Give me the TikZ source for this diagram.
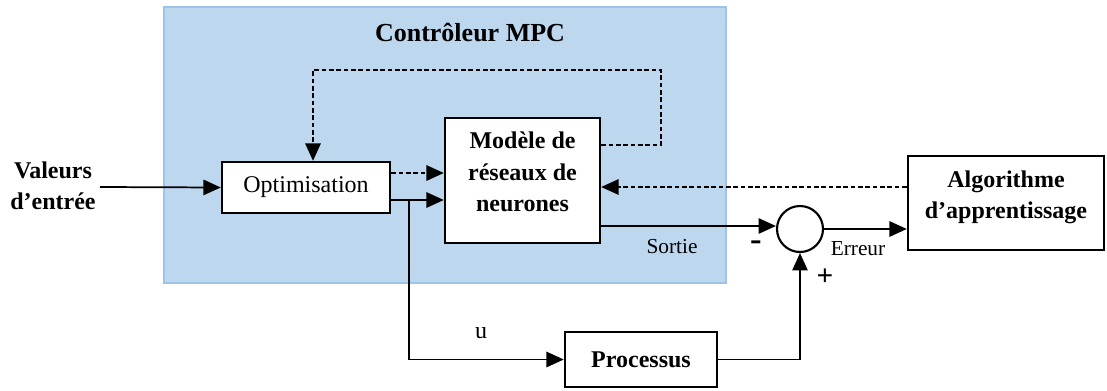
\documentclass[tikz,border=0pt]{standalone}
\usepackage{fontspec}
\setmainfont{Liberation Serif}
\usetikzlibrary{arrows.meta}
\definecolor{mpcfill}{HTML}{BDD7EE}
\definecolor{mpcedge}{HTML}{9DC3E6}
\begin{document}
\begin{tikzpicture}[x=0.75pt,y=-0.75pt,
  box/.style={draw, line width=1.8pt, fill=white, inner sep=0pt, align=center},
  conn/.style={line width=1.3pt, -{Triangle[length=13pt,width=11.5pt]}},
  dconn/.style={conn, dash pattern=on 3.5pt off 2pt},
  btxt/.style={font=\fontsize{18}{23}\selectfont\bfseries, align=center},
  rtxt/.style={font=\fontsize{18}{22}\selectfont},
  stxt/.style={font=\fontsize{16}{19}\selectfont}
]
\useasboundingbox (0,0) rectangle (1107,390);
\fill[mpcfill, draw=mpcedge, line width=1pt] (164,7) rectangle (726,283);
\node[font=\fontsize{19.5}{22}\selectfont\bfseries] (title) at (470,32) {Contrôleur MPC};

\node[box, minimum width=126pt, minimum height=38.25pt, rtxt] (opt) at (306,187.5) {Optimisation};
\node[box, minimum width=116.25pt, minimum height=93.75pt] (mod) at (522.5,180.5) {};
\node[btxt, font=\fontsize{18}{23.5}\selectfont\bfseries] (modtxt) at (522.5,172) {Modèle de\\réseaux de\\neurones};
\node[box, minimum width=147pt, minimum height=70.5pt] (algo) at (1006,203) {};
\node[btxt] (algotxt) at (1006,197) {Algorithme\\d’apprentissage};
\node[box, minimum width=114pt, minimum height=41.25pt, btxt] (proc) at (641,359.5) {Processus};
\node[draw, circle, line width=1.6pt, minimum size=34.5pt, inner sep=0pt] (sum) at (800,229) {};
\node[btxt] (input) at (53,186) {Valeurs\\d’entrée};

\coordinate (in0) at (100,187);
\coordinate (rt) at (661,145);
\coordinate (lt) at (313,70);
\coordinate (d1) at (0,173);
\coordinate (s1) at (0,200);
\coordinate (br) at (409,200);
\coordinate (o1) at (0,226);
\coordinate (a1) at (0,187);

\draw[conn] (in0) -- (opt.west);
\draw[dconn] (mod.east |- rt) -- (rt) |- (lt) -- (opt.north -| lt);
\draw[dconn] (opt.east |- d1) -- (mod.west |- d1);
\draw[conn] (opt.east |- s1) -- (mod.west |- s1);
\draw[conn] (br) |- (proc.west);
\draw[conn] (mod.east |- o1) -- (sum.west |- o1);
\draw[conn] (sum.east) -- (algo.west |- sum.east);
\draw[dconn] (algo.west |- a1) -- (mod.east |- a1);
\draw[conn] (proc.east) -| (sum.south);

\node[stxt] (sortie) at (672,247) {Sortie};
\node[stxt] (erreur) at (858,249) {Erreur};
\node[font=\fontsize{26}{28}\selectfont\bfseries] (minus) at (756,246) {-};
\node[font=\fontsize{22}{24}\selectfont\bfseries] (plus) at (825,277) {+};
\node[rtxt] (u) at (481,333) {u};
\end{tikzpicture}
\end{document}
